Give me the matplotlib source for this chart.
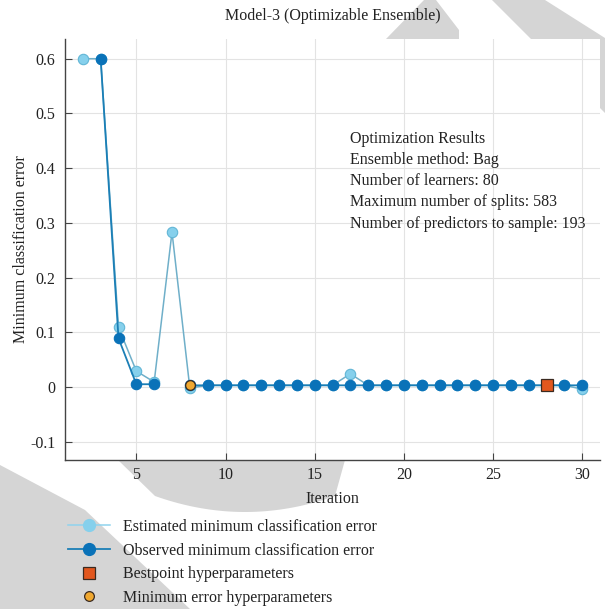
import numpy as np
import matplotlib
matplotlib.use("Agg")
import matplotlib.pyplot as plt
from matplotlib.patches import Polygon
from matplotlib.lines import Line2D

# ---- data ----
est_iter = list(range(2, 31))
est_vals = [0.600, 0.600, 0.109, 0.029, 0.009, 0.283, -0.002,
            0.003, 0.003, 0.003, 0.003, 0.003, 0.003, 0.003, 0.003,
            0.024,
            0.003, 0.003, 0.003, 0.003, 0.003, 0.003, 0.003, 0.003,
            0.003, 0.003, 0.003, 0.003,
            -0.004]
obs_iter = list(range(3, 31))
obs_vals = [0.600, 0.089, 0.005, 0.005, np.nan, 0.003,
            0.003, 0.003, 0.003, 0.003, 0.003, 0.003, 0.003, 0.003,
            0.003, 0.003, 0.003, 0.003, 0.003, 0.003, 0.003, 0.003,
            0.003, 0.003, 0.003, 0.003, 0.003, 0.003]
best_iter = [28]
best_val = [0.003]
minerr_iter = [8]
minerr_val = [0.003]

title = "Model-3 (Optimizable Ensemble)"
info_lines = ["Optimization Results",
              "Ensemble method: Bag",
              "Number of learners: 80",
              "Maximum number of splits: 583",
              "Number of predictors to sample: 193"]
legend_labels = ["Estimated minimum classification error",
                 "Observed minimum classification error",
                 "Bestpoint hyperparameters",
                 "Minimum error hyperparameters"]
xticks = [5, 10, 15, 20, 25, 30]
yticks = [-0.1, 0, 0.1, 0.2, 0.3, 0.4, 0.5, 0.6]
ytick_labels = ["-0.1", "0", "0.1", "0.2", "0.3", "0.4", "0.5", "0.6"]

plt.rcParams['font.family'] = ['Liberation Serif', 'DejaVu Serif']
FS = 11.5
W, H = 605, 609
fig = plt.figure(figsize=(W / 100, H / 100), dpi=100)

def px(x, y):
    return (x / W, 1 - y / H)

# ---- watermark shapes (behind axes) ----
wm = '#d5d5d5'
shapes = [
    [(386, 39), (459, 39), (459, 30), (436, 0), (424, 0)],
    [(492, 0), (545, 0), (605, 38), (605, 113), (531, 39)],
    [(0, 465), (85, 510), (190, 609), (0, 609)],
]
xs = np.linspace(155, 335, 40)
bottom = [(x, 512 - 16 * ((x - 245) / 90.0) ** 2) for x in xs]
shapes.append([(118, 460), (345, 460)] + bottom[::-1])
for s in shapes:
    fig.patches.append(Polygon([px(x, y) for x, y in s], closed=True,
                               transform=fig.transFigure, facecolor=wm,
                               edgecolor='none', zorder=-5))

ax = fig.add_axes([65 / W, 1 - 460 / H, 535 / W, 421 / H])
ax.set_facecolor('white')

est_face = '#86d0ec'
est_edge = '#62b6d6'
est_line = '#6fafc9'
obs_face = '#0a72b8'
obs_line = '#1b7fb6'

ax.plot(est_iter, est_vals, '-o', color=est_line, lw=1.1, ms=7.5,
        mfc=est_face, mec=est_edge, mew=0.8, zorder=3)
ax.plot(obs_iter, obs_vals, '-o', color=obs_line, lw=1.3, ms=7.5,
        mfc=obs_face, mec=obs_face, mew=0.8, zorder=4)
ax.plot(best_iter, best_val, 's', ms=8, mfc='#e2571e', mec='#3a2a20', mew=0.9, zorder=5)
ax.plot(minerr_iter, minerr_val, 'o', ms=7, mfc='#f0a830', mec='#3a2a20', mew=0.9, zorder=5)

ax.set_xlim(1, 31)
ax.set_ylim(-0.1335, 0.636)
ax.set_xticks(xticks)
ax.set_yticks(yticks)
ax.set_yticklabels(ytick_labels)
ax.grid(True, color='#e3e3e3', lw=0.8)
ax.set_axisbelow(True)
for s in ['top', 'right']:
    ax.spines[s].set_visible(False)
for s in ['left', 'bottom']:
    ax.spines[s].set_color('#444444')
    ax.spines[s].set_linewidth(1.0)
ax.tick_params(direction='in', length=5, width=0.8, color='#444444',
               labelsize=FS, labelcolor='#222222')
ax.tick_params(axis='x', pad=5)
ax.tick_params(axis='y', pad=7)

ax.set_title(title, fontsize=FS, pad=14, color='#222222')
ax.set_xlabel("Iteration", fontsize=FS, labelpad=6, color='#222222')
ax.set_ylabel("Minimum classification error", fontsize=FS, color='#222222')
ax.yaxis.set_label_coords((29 - 65) / 535, 0.5)

ax.text((350 - 65) / 535, (460 - 131) / 421, "\n".join(info_lines),
        transform=ax.transAxes, fontsize=FS, va='top', ha='left',
        linespacing=1.43, color='#222222')

handles = [
    Line2D([], [], color='#8fd3ee', lw=1.1, marker='o', ms=8.5, mfc=est_face, mec=est_face),
    Line2D([], [], color=obs_line, lw=1.3, marker='o', ms=8.5, mfc=obs_face, mec=obs_face),
    Line2D([], [], ls='none', marker='s', ms=8, mfc='#e2571e', mec='#3a2a20', mew=0.9),
    Line2D([], [], ls='none', marker='o', ms=7, mfc='#f0a830', mec='#3a2a20', mew=0.9),
]
fig.legend(handles, legend_labels, loc='upper left',
           bbox_to_anchor=(60 / W, 1 - 511 / H), frameon=False,
           fontsize=FS, handlelength=2.65, handletextpad=0.8,
           labelspacing=0.48, borderpad=0, labelcolor='#222222')

fig.savefig("out.png", dpi=100)
